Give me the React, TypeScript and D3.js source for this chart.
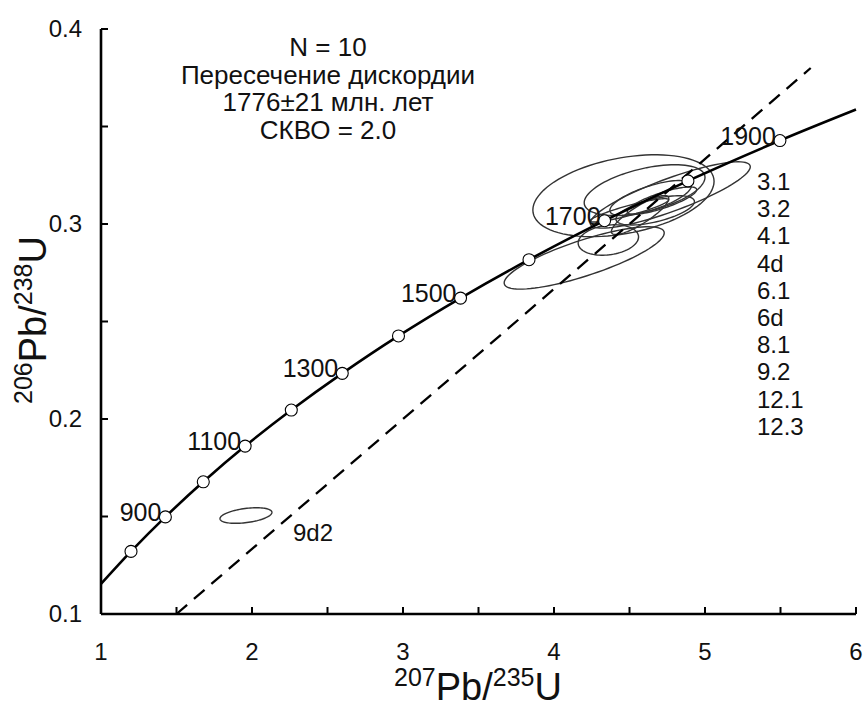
import React from "react";
import * as d3 from "d3";

// Concordia points (age Ma, 207Pb/235U, 206Pb/238U)
const concAges = [704, 800, 900, 1000, 1100, 1200, 1300, 1400, 1500, 1600, 1700, 1800, 1900, 1976];
const concX = [1.0, 1.1987, 1.4263, 1.6774, 1.9545, 2.2603, 2.5977, 2.9701, 3.381, 3.8344, 4.3348, 4.8869, 5.4962, 6.0];
const concY = [0.1154, 0.1321, 0.1498, 0.1678, 0.1861, 0.2046, 0.2234, 0.2426, 0.262, 0.2817, 0.3017, 0.3221, 0.3428, 0.3587];
const markedAges = [800, 900, 1000, 1100, 1200, 1300, 1400, 1500, 1600, 1700, 1800, 1900];
const labelledAges = [900, 1100, 1300, 1500, 1700, 1900];

// Discordia end points
const discX = [1.5, 5.7];
const discY = [0.1, 0.38];

// Analysis error ellipses: centre, half-widths, correlation
const spotNames = ["3.1", "3.2", "4.1", "4d", "6.1", "6d", "8.1", "9.2", "12.1", "12.3", "9d2"];
const spotX = [4.46, 4.77, 4.2, 4.36, 4.6, 4.64, 4.67, 4.57, 4.715, 4.5, 1.96];
const spotY = [0.3145, 0.3149, 0.2826, 0.2918, 0.3174, 0.3133, 0.307, 0.3046, 0.312, 0.307, 0.1505];
const spotSX = [0.6, 0.53, 0.53, 0.2, 0.4, 0.27, 0.26, 0.19, 0.23, 0.26, 0.172];
const spotSY = [0.021, 0.017, 0.016, 0.0078, 0.013, 0.009, 0.0075, 0.01, 0.007, 0.006, 0.004];
const spotRho = [0.35, 0.85, 0.8, 0.2, 0.5, 0.7, 0.6, 0.85, 0.8, 0.9, 0.4];

const listLabels = ["3.1", "3.2", "4.1", "4d", "6.1", "6d", "8.1", "9.2", "12.1", "12.3"];
const infoLines = ["N = 10", "Пересечение дискордии", "1776±21 млн. лет", "СКВО = 2.0"];

const xMajor = [1, 2, 3, 4, 5, 6];
const xMinor = [1.5, 2.5, 3.5, 4.5, 5.5];
const yMajor = [0.1, 0.2, 0.3, 0.4];
const yMinor = [0.15, 0.25, 0.35];

const FONT = "'Liberation Sans', Arial, sans-serif";

export default function App() {
  const W = 866, H = 709;
  const x = d3.scaleLinear().domain([1, 6]).range([101, 856]);
  const y = d3.scaleLinear().domain([0.1, 0.4]).range([614, 29]);

  const concPts: [number, number][] = concX.map((v, i) => [v, concY[i]]);
  const concLine = d3
    .line<[number, number]>()
    .x((d) => x(d[0]))
    .y((d) => y(d[1]))
    .curve(d3.curveCatmullRom)(concPts);

  const ellipsePath = (i: number) => {
    const n = 90;
    const pts: [number, number][] = d3.range(n).map((k) => {
      const t = (k / n) * Math.PI * 2;
      const r = spotRho[i];
      return [
        spotX[i] + spotSX[i] * Math.cos(t),
        spotY[i] + spotSY[i] * (r * Math.cos(t) + Math.sqrt(1 - r * r) * Math.sin(t)),
      ];
    });
    return d3
      .line<[number, number]>()
      .x((d) => x(d[0]))
      .y((d) => y(d[1]))
      .curve(d3.curveLinearClosed)(pts);
  };

  const tick = 7;

  return (
    <svg
      width={W}
      height={H}
      style={{ position: "absolute", left: 0, top: 0, background: "#fff" }}
      fontFamily={FONT}
    >
      <rect width={W} height={H} fill="#fff" />

      {/* ellipses */}
      {spotNames.map((s, i) => (
        <path key={s} d={ellipsePath(i) || ""} fill="none" stroke="#333" strokeWidth={1.4} />
      ))}

      {/* discordia */}
      <line
        x1={x(discX[0])}
        y1={y(discY[0])}
        x2={x(discX[1])}
        y2={y(discY[1])}
        stroke="#000"
        strokeWidth={2.3}
        strokeDasharray="14 9"
      />

      {/* concordia */}
      <path d={concLine || ""} fill="none" stroke="#000" strokeWidth={2.6} />
      {markedAges.map((a) => {
        const i = concAges.indexOf(a);
        return (
          <circle key={a} cx={x(concX[i])} cy={y(concY[i])} r={6} fill="#fff" stroke="#000" strokeWidth={1.1} />
        );
      })}
      {labelledAges.map((a) => {
        const i = concAges.indexOf(a);
        return (
          <text key={a} x={x(concX[i]) - 4} y={y(concY[i]) + 4} fontSize={25} textAnchor="end" fill="#111">
            {a}
          </text>
        );
      })}

      {/* axes */}
      <line x1={x(1)} x2={x(1)} y1={y(0.1)} y2={y(0.4)} stroke="#000" strokeWidth={2.6} />
      <line x1={x(1)} x2={x(6)} y1={y(0.1)} y2={y(0.1)} stroke="#000" strokeWidth={2.6} />
      {[...yMajor, ...yMinor].map((v) => (
        <line key={"yt" + v} x1={x(1)} x2={x(1) + tick} y1={y(v)} y2={y(v)} stroke="#000" strokeWidth={2} />
      ))}
      {[...xMajor, ...xMinor].map((v) => (
        <line key={"xt" + v} x1={x(v)} x2={x(v)} y1={y(0.1)} y2={y(0.1) - tick} stroke="#000" strokeWidth={2} />
      ))}
      {yMajor.map((v) => (
        <text key={"yl" + v} x={x(1) - 19} y={y(v) + 8} fontSize={24} textAnchor="end" fill="#111">
          {d3.format(".1f")(v)}
        </text>
      ))}
      {xMajor.map((v) => (
        <text key={"xl" + v} x={x(v)} y={y(0.1) + 46} fontSize={24} textAnchor="middle" fill="#111">
          {v}
        </text>
      ))}

      {/* axis titles */}
      <text x={478} y={700} textAnchor="middle" fill="#111" fontSize={38}>
        <tspan fontSize={25} dy={-14}>207</tspan>
        <tspan dy={14}>Pb/</tspan>
        <tspan fontSize={25} dy={-14}>235</tspan>
        <tspan dy={14}>U</tspan>
      </text>
      <text transform="translate(46,320) rotate(-90)" textAnchor="middle" fill="#111" fontSize={38}>
        <tspan fontSize={25} dy={-14}>206</tspan>
        <tspan dy={14}>Pb/</tspan>
        <tspan fontSize={25} dy={-14}>238</tspan>
        <tspan dy={14}>U</tspan>
      </text>

      {/* info block */}
      {infoLines.map((t, i) => (
        <text key={t} x={328} y={56 + i * 27.5} fontSize={26} textAnchor="middle" fill="#111">
          {t}
        </text>
      ))}

      {/* spot list */}
      {listLabels.map((t, i) => (
        <text key={t} x={757} y={190 + i * 27.2} fontSize={24} fill="#111">
          {t}
        </text>
      ))}
      <text x={293} y={541} fontSize={24} fill="#111">
        9d2
      </text>
    </svg>
  );
}
